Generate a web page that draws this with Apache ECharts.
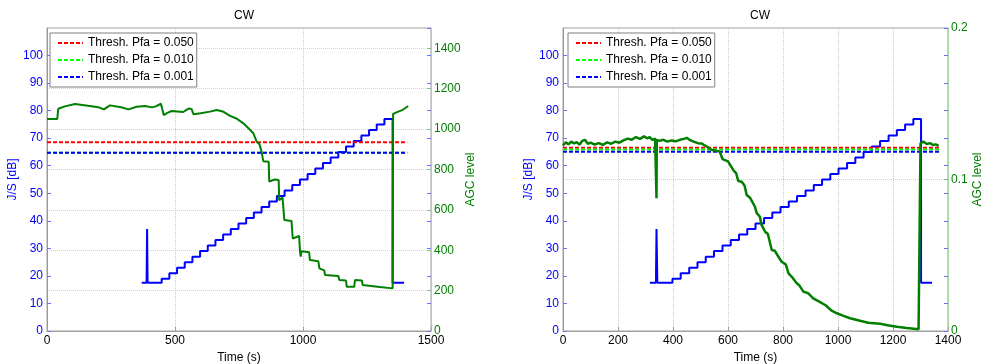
<!DOCTYPE html>
<html>
<head>
<meta charset="utf-8">
<script src="https://cdn.jsdelivr.net/npm/echarts@6/dist/echarts.min.js"></script>
<style>
html, body { margin: 0; padding: 0; background: #fff; }
#chart { width: 993px; height: 364px; }
</style>
</head>
<body>
<div id="chart"></div>
<script>
// legend names of the detection thresholds
const thrNames = ['Thresh. Pfa = 0.050', 'Thresh. Pfa = 0.010', 'Thresh. Pfa = 0.001'];
// threshold levels in dB (left / right panel) and where the lines stop (s)
const thrLeft = [68.5, 64.7, 64.7];
const thrRight = [66.5, 65.9, 65.1];
const thrEndLeft = 1407;
const thrEndRight = 1368;

// J/S staircase [time s, dB]
const jsLeft = [
  [370, 17.5], [389, 17.5], [391, 37], [393, 17.5],
  [448, 19], [478, 21], [508, 23], [538, 25], [568, 27], [598, 29], [628, 31], [658, 33],
  [688, 35], [718, 37], [748, 39], [778, 41], [808, 43], [838, 45], [868, 47], [898, 49],
  [928, 51], [958, 53], [988, 55], [1018, 57], [1048, 59], [1078, 61], [1108, 63], [1138, 65],
  [1168, 67], [1198, 69], [1228, 71], [1258, 73], [1288, 75], [1318, 77],
  [1350, 17.5], [1395, 17.5]
];
const jsRight = [
  [316, 17.5], [338, 17.5], [340, 37], [343, 17.5],
  [398, 19], [428, 21], [459, 23], [489, 25], [519, 27], [549, 29], [580, 31], [610, 33],
  [640, 35], [670, 37], [700, 39], [731, 41], [761, 43], [791, 45], [821, 47], [851, 49],
  [882, 51], [912, 53], [942, 55], [972, 57], [1002, 59], [1033, 61], [1063, 63], [1093, 65],
  [1123, 67], [1153, 69], [1184, 71], [1214, 73], [1244, 75], [1274, 77],
  [1302, 17.5], [1342, 17.5]
];

// AGC level [time s, level]
const agcLeft = [
  [0, 1049], [40, 1050], [44, 1100], [70, 1112], [109, 1124], [160, 1115], [200, 1108], [222, 1097],
  [246, 1117], [290, 1108], [318, 1097], [350, 1110], [383, 1114], [410, 1107], [425, 1112], [445, 1125],
  [452, 1120], [456, 1069], [470, 1080], [487, 1089], [532, 1084], [545, 1095], [555, 1102], [565, 1098],
  [572, 1073], [600, 1078], [637, 1086], [663, 1094], [690, 1085], [715, 1065], [740, 1052], [767, 1028],
  [790, 1000], [806, 979], [812, 960], [819, 937], [830, 925], [838, 888], [845, 840], [866, 838],
  [868, 740], [890, 750], [905, 748], [907, 648], [920, 660], [926, 665], [927, 550], [955, 545],
  [960, 458], [985, 470], [988, 398], [991, 368], [994, 395], [1024, 390], [1027, 351], [1060, 345],
  [1064, 310], [1083, 300], [1086, 277], [1138, 272], [1142, 252], [1168, 250], [1171, 219], [1200, 219],
  [1203, 252], [1230, 250], [1233, 228], [1300, 218], [1350, 211], [1352, 1075], [1372, 1086], [1390, 1095],
  [1411, 1114]
];
const agcRight = [
  [0, 0.1225], [10, 0.1245], [20, 0.1232], [30, 0.1250], [40, 0.1238], [50, 0.1246], [60, 0.1230], [70, 0.1255],
  [80, 0.1262], [90, 0.1236], [100, 0.1244], [115, 0.1230], [130, 0.1240], [145, 0.1228], [160, 0.1245], [175, 0.1236],
  [190, 0.1250], [205, 0.1243], [220, 0.1258], [235, 0.1270], [250, 0.1262], [265, 0.1280], [280, 0.1268], [295, 0.1285],
  [305, 0.1272], [315, 0.1280], [325, 0.1262], [335, 0.1270], [339, 0.1265], [340, 0.0876], [341, 0.1262], [350, 0.1255],
  [365, 0.1262], [380, 0.1250], [395, 0.1258], [410, 0.1252], [425, 0.1262], [440, 0.1268], [450, 0.1275], [460, 0.1262],
  [475, 0.1250], [490, 0.1240], [505, 0.1238], [515, 0.1225], [525, 0.1215], [540, 0.1196], [555, 0.1190], [570, 0.1184],
  [577, 0.1180], [580, 0.1135], [600, 0.1120], [607, 0.1107], [619, 0.1063], [630, 0.1040], [637, 0.0990], [650, 0.0985],
  [660, 0.0960], [668, 0.0898], [680, 0.0880], [698, 0.0820], [704, 0.0780], [716, 0.0754], [722, 0.0700], [735, 0.0655],
  [745, 0.0640], [759, 0.0535], [770, 0.0530], [780, 0.0500], [795, 0.0457], [810, 0.0440], [820, 0.0380], [832, 0.0358],
  [850, 0.0315], [860, 0.0300], [874, 0.0260], [892, 0.0249], [910, 0.0215], [935, 0.0190], [955, 0.0170], [977, 0.0134],
  [996, 0.0117], [1020, 0.0100], [1044, 0.0084], [1080, 0.0068], [1110, 0.0055], [1153, 0.0048], [1180, 0.0038], [1214, 0.0028],
  [1250, 0.0020], [1293, 0.0011], [1299, 0.0012], [1300, 0.1239], [1310, 0.1250], [1323, 0.1234], [1335, 0.1240], [1345, 0.1228],
  [1355, 0.1232], [1366, 0.1222]
];

const FONT = '"Liberation Sans", Arial, sans-serif';
const BLUE = '#0000ff';
const GREEN = '#007f00';
const thrColors = ['#ff0000', '#00ff00', '#0000ff'];
const plain = v => String(v);

function xAxisFor(gi, max, interval) {
  return {
    type: 'value', gridIndex: gi, min: 0, max: max, interval: interval,
    name: 'Time (s)', nameLocation: 'middle', nameGap: 14,
    nameTextStyle: { color: '#000', fontSize: 12, fontFamily: FONT },
    axisLine: { show: true, lineStyle: { color: '#a0a0a0' } },
    axisTick: { inside: true, length: 4, lineStyle: { color: '#a0a0a0' } },
    axisLabel: { color: '#000', fontSize: 12, fontFamily: FONT, margin: 4, formatter: plain },
    splitLine: { show: true, lineStyle: { color: '#c8c8c8', type: 'dotted' } }
  };
}

function yAxesFor(gi, agcMax, agcInterval, showAgcMax, gapL, gapR) {
  return [
    {
      type: 'value', gridIndex: gi, position: 'left', min: 0, max: 110, interval: 10,
      name: 'J/S [dB]', nameLocation: 'middle', nameGap: gapL,
      nameTextStyle: { color: BLUE, fontSize: 12, fontFamily: FONT },
      axisLine: { show: true, lineStyle: { color: '#8c8cff' } },
      axisTick: { inside: true, length: 4, lineStyle: { color: '#7070ff' } },
      axisLabel: { color: BLUE, fontSize: 12, fontFamily: FONT, margin: 4, showMaxLabel: false, formatter: plain },
      splitLine: { show: false }
    },
    {
      type: 'value', gridIndex: gi, position: 'right', min: 0, max: agcMax, interval: agcInterval,
      name: 'AGC level', nameLocation: 'middle', nameGap: gapR,
      nameTextStyle: { color: GREEN, fontSize: 12, fontFamily: FONT },
      axisLine: { show: true, lineStyle: { color: '#a8d4a8' } },
      axisTick: { inside: true, length: 4, lineStyle: { color: '#80c080' } },
      axisLabel: { color: GREEN, fontSize: 12, fontFamily: FONT, margin: 3, showMaxLabel: showAgcMax, formatter: plain },
      splitLine: { show: true, lineStyle: { color: '#c4dcc4', type: 'dotted' } }
    },
    {
      // mirrored J/S ticks on the right edge
      type: 'value', gridIndex: gi, position: 'right', min: 0, max: 110, interval: 10,
      axisLine: { show: false },
      axisTick: { inside: true, length: 4, lineStyle: { color: '#7070ff' } },
      axisLabel: { show: false },
      splitLine: { show: false }
    }
  ];
}

function panelSeries(gi, thr, thrEnd, js, agc, agcWidth) {
  const out = [{
    type: 'line', xAxisIndex: gi, yAxisIndex: gi * 3, step: 'end', symbol: 'none', silent: true,
    data: js, lineStyle: { color: BLUE, width: 2 }, z: 2
  }];
  thr.forEach((v, i) => {
    out.push({
      name: thrNames[i], type: 'line', xAxisIndex: gi, yAxisIndex: gi * 3, symbol: 'none', silent: true,
      data: [[0, v], [thrEnd, v]],
      itemStyle: { color: thrColors[i] },
      lineStyle: { color: thrColors[i], width: 2, type: [4, 2] }, z: 3
    });
  });
  out.push({
    type: 'line', xAxisIndex: gi, yAxisIndex: gi * 3 + 1, symbol: 'none', silent: true,
    data: agc, lineStyle: { color: GREEN, width: agcWidth }, z: 4
  });
  return out;
}

function legendAt(left) {
  return {
    left: left, top: 33, orient: 'vertical', data: thrNames, selectedMode: false,
    backgroundColor: '#fff', borderColor: '#808080', borderWidth: 1,
    padding: [4, 3, 4, 7], itemWidth: 25, itemHeight: 10, itemGap: 5,
    itemStyle: { opacity: 0 },
    textStyle: { color: '#000', fontSize: 12, fontFamily: FONT }
  };
}

const chart = echarts.init(document.getElementById('chart'));
chart.setOption({
  animation: false,
  backgroundColor: '#fff',
  title: [
    { text: 'CW', left: 239, top: 5, textAlign: 'center', textStyle: { fontSize: 12, fontWeight: 'normal', color: '#000', fontFamily: FONT } },
    { text: 'CW', left: 755, top: 5, textAlign: 'center', textStyle: { fontSize: 12, fontWeight: 'normal', color: '#000', fontFamily: FONT } }
  ],
  legend: [legendAt(50), legendAt(568)],
  grid: [
    { left: 47, top: 28, width: 384, height: 303, show: true, borderColor: '#a0a0a0', borderWidth: 1, outerBoundsMode: 'none' },
    { left: 563, top: 28, width: 385, height: 303, show: true, borderColor: '#a0a0a0', borderWidth: 1, outerBoundsMode: 'none' }
  ],
  xAxis: [xAxisFor(0, 1500, 500), xAxisFor(1, 1400, 200)],
  yAxis: yAxesFor(0, 1500, 200, false, 25, 26).concat(yAxesFor(1, 0.2, 0.1, true, 21, 22)),
  series: panelSeries(0, thrLeft, thrEndLeft, jsLeft, agcLeft, 2)
    .concat(panelSeries(1, thrRight, thrEndRight, jsRight, agcRight, 2.5))
});
</script>
</body>
</html>
